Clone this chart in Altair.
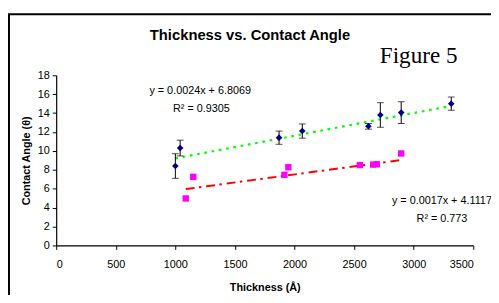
import altair as alt
import pandas as pd

# Series A (blue diamonds, with error bars)
a_x = [1000, 1040, 1870, 2065, 2620, 2720, 2895, 3315]
a_y = [8.4, 10.3, 11.4, 12.1, 12.6, 13.8, 14.05, 15.0]
a_err = [1.3, 0.83, 0.7, 0.75, 0.3, 1.3, 1.15, 0.7]

# Series B (magenta squares)
b_x = [1087, 1150, 1915, 1948, 2548, 2660, 2690, 2895]
b_y = [4.97, 7.26, 7.47, 8.27, 8.5, 8.55, 8.6, 9.73]

# Trendline coefficients (as printed)
a_slope, a_icpt = 0.0024, 6.8069
b_slope, b_icpt = 0.0017, 4.1117

x_ticks = [0, 500, 1000, 1500, 2000, 2500, 3000, 3500]
y_ticks = [0, 2, 4, 6, 8, 10, 12, 14, 16, 18]

# Annotation text and anchor (data coordinates)
ann_text = ["y = 0.0024x + 6.8069", "R\u00b2 = 0.9305", "y = 0.0017x + 4.1117", "R\u00b2 = 0.773"]
ann_x = [782, 980, 2817, 3024]
ann_y = [16.0, 14.07, 4.42, 2.44]

FONT = "Liberation Sans"
W, H = 424, 173
X_TITLE = "Thickness (\u00c5)"
Y_TITLE = "Contact Angle (\u03b8)"

dfa = pd.DataFrame({"x": a_x, "y": a_y, "lo": [y - e for y, e in zip(a_y, a_err)],
                    "hi": [y + e for y, e in zip(a_y, a_err)]})
dfb = pd.DataFrame({"x": b_x, "y": b_y})
trend_a = pd.DataFrame({"x": [min(a_x), max(a_x)],
                        "y": [a_slope * min(a_x) + a_icpt, a_slope * max(a_x) + a_icpt]})
trend_b = pd.DataFrame({"x": [min(b_x), max(b_x)],
                        "y": [b_slope * min(b_x) + b_icpt, b_slope * max(b_x) + b_icpt]})
ann = pd.DataFrame({"t": ann_text, "x": ann_x, "y": ann_y})

xs = alt.Scale(domain=[0, 3500], nice=False)
ys = alt.Scale(domain=[0, 18], nice=False)

x_axis = alt.Axis(values=x_ticks, format="d", grid=False, labelPadding=9, titleY=46,
                  titleBaseline="alphabetic")
y_axis = alt.Axis(values=y_ticks, format="d", grid=False, labelPadding=3, titleX=-27,
                  titleBaseline="alphabetic")


def X(field="x"):
    return alt.X(f"{field}:Q", scale=xs, title=X_TITLE, axis=x_axis)


def Y(field="y"):
    return alt.Y(f"{field}:Q", scale=ys, title=Y_TITLE, axis=y_axis)


frame = alt.Chart(pd.DataFrame({"a": [0]})).mark_rect(
    fill=None, stroke="#000000", strokeWidth=2
).encode(x=alt.value(-48), x2=alt.value(460), y=alt.value(-62), y2=alt.value(260))

trA = alt.Chart(trend_a).mark_line(color="#00FF00", strokeWidth=2.2, strokeDash=[2.7, 4.8]).encode(
    x=X(), y=Y())
trB = alt.Chart(trend_b).mark_line(color="#FF0000", strokeWidth=2, strokeDash=[9, 4.5, 2.5, 5]).encode(
    x=X(), y=Y())

err_rule = alt.Chart(dfa).mark_rule(color="#000000", strokeWidth=1).encode(
    x=X(), y=Y("lo"), y2="hi:Q")
cap_lo = alt.Chart(dfa).mark_tick(color="#000000", orient="horizontal", size=7, thickness=1).encode(
    x=X(), y=Y("lo"))
cap_hi = alt.Chart(dfa).mark_tick(color="#000000", orient="horizontal", size=7, thickness=1).encode(
    x=X(), y=Y("hi"))

ptsA = alt.Chart(dfa).mark_point(shape="diamond", filled=True, color="#000080", size=45, opacity=1).encode(
    x=X(), y=Y())
ptsB = alt.Chart(dfb).mark_point(shape="square", filled=True, color="#FF00FF", size=42, opacity=1).encode(
    x=X(), y=Y())

ann_layer = alt.Chart(ann).mark_text(font=FONT, fontSize=11, align="left", baseline="alphabetic",
                                     color="#000000").encode(
    x=X(), y=Y(), text="t:N")

title_txt = alt.Chart(pd.DataFrame({"t": ["Thickness vs. Contact Angle"]})).mark_text(
    font=FONT, fontSize=15, fontWeight="bold", align="center", baseline="alphabetic", color="#000000"
).encode(x=alt.value(197), y=alt.value(-36), text="t:N")

fig_txt = alt.Chart(pd.DataFrame({"t": ["Figure 5"]})).mark_text(
    font="Liberation Serif", fontSize=23.5, align="left", baseline="alphabetic", color="#000000"
).encode(x=alt.value(329), y=alt.value(-12.5), text="t:N")

chart = alt.layer(
    frame, trA, trB, err_rule, cap_lo, cap_hi, ptsA, ptsB, ann_layer, title_txt, fig_txt
).properties(
    width=W, height=H,
    autosize=alt.AutoSizeParams(type="none"),
    padding={"left": 49, "top": 66, "right": 18, "bottom": 48},
    background="#ffffff",
).configure_view(stroke=None).configure_axis(
    labelFont=FONT, labelFontSize=11, labelColor="#000000",
    titleFont=FONT, titleFontSize=11, titleFontWeight="bold", titleColor="#000000",
    domainColor="#000000", tickColor="#000000", tickSize=4, domainWidth=1.2,
)

chart.save("out.html", embed_options={"renderer": "svg", "actions": False})
